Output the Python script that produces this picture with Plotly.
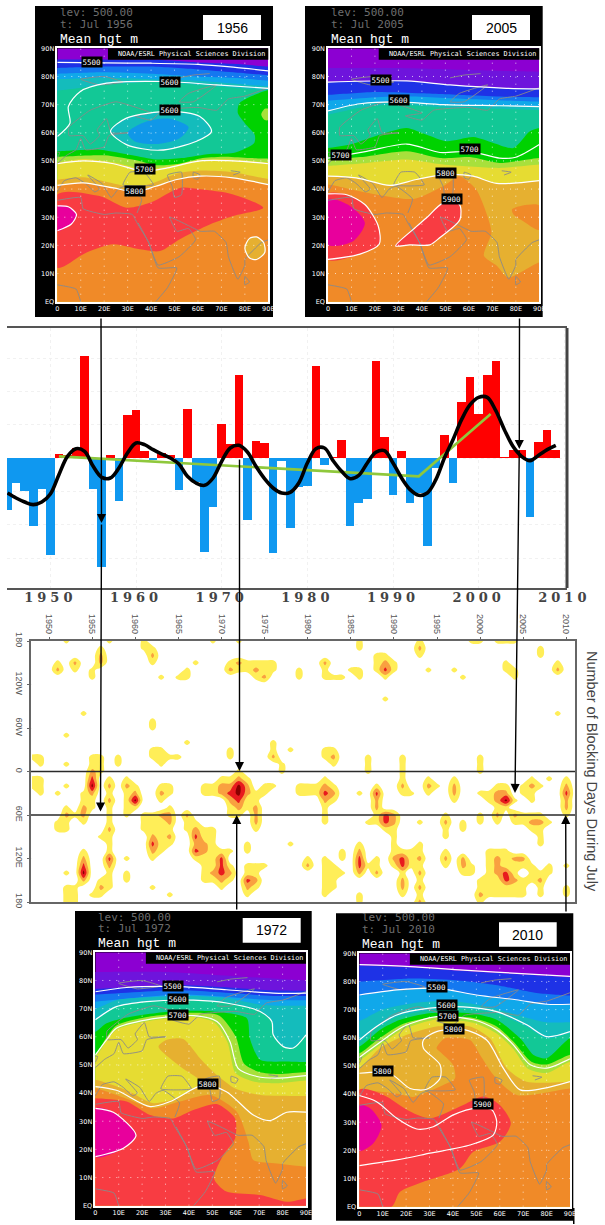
import numpy as np
import plotly.graph_objects as go

W, H = 605, 1225

# ---------- bar chart data ----------
BAR_YEARS = list(range(1945, 2010))
BAR_VALUES = [-1.55,-.75,-1.0,-2.05,-.92,-2.9,.12,.08,.3,3.05,-.92,-3.27,.1,-1.28,1.28,1.45,.2,-.05,.15,.1,
              -.97,1.47,-.72,-2.83,-1.47,1.03,.42,2.5,-1.85,.5,.45,-2.85,-.08,-2.1,-.87,-.83,2.75,-.2,.03,.55,
              -2.05,-1.35,-1.22,2.9,.62,-1.1,.2,-1.36,-1.05,-2.65,-.3,.7,-.76,1.68,2.42,1.32,2.5,2.9,.02,.24,
              .24,-1.78,.47,.84,.24]
SMOOTH_VALUES = [-1.05,-1.2,-1.32,-1.4,-1.32,-1.08,-.5,.05,.28,.2,-.25,-.58,-.6,-.3,.15,.45,.4,.25,.12,0,
                 -.18,-.55,-.75,-.82,-.6,-.1,.3,.38,.18,-.25,-.62,-.9,-1.05,-1.03,-.75,-.15,.28,.3,-.08,-.4,
                 -.62,-.52,-.15,.17,.22,-.15,-.6,-.95,-1.12,-1.05,-.65,0,.55,1.15,1.6,1.82,1.82,1.42,.85,.35,
                 .05,-.08,.08,.25,.38]
TREND_YEARS = [1951, 1993, 2001.4]
TREND_VALUES = [.05, -.55, 1.32]
BAR_TICKS = [1950, 1960, 1970, 1980, 1990, 2000, 2010]

# ---------- blocking-days data: year -> {longitude index (10 deg steps from 180W): class} ----------
BLOCK_TICKS = [1950,1955,1960,1965,1970,1975,1980,1985,1990,1995,2000,2005,2010]
BLOCK_LON_TICKS = [-180,-120,-60,0,60,120,180]
BLOCK_LON_LABELS = ['180','120W','60W','0','60E','120E','180']
BLOCK_DAYS = {
1948:{16:1,19:1,20:1},
1949:{16:1,17:1,19:1,20:1,21:1},
1950:{},
1951:{3:1,4:2,21:1,25:1,26:1},
1952:{0:1,13:1,17:1,20:1,23:1,24:2,25:1,26:1,32:1,34:1,35:1,36:1},
1953:{3:2,4:1,24:1,34:1,35:1,36:1},
1954:{10:1,21:1,22:1,23:2,24:2,25:1,29:1,30:2,31:3,32:4,33:2},
1955:{4:1,5:1,16:1,17:1,18:2,19:3,20:4,21:2,22:1,23:1,35:1},
1956:{1:1,2:2,3:2,16:1,17:1,18:1,27:1,33:1,34:2,35:1},
1957:{0:1,19:1,20:2,21:1,22:2,23:1,24:1,25:1,26:2,27:1,28:1,29:1,30:3,31:2,32:1,33:1,34:1},
1958:{16:1,17:1},
1959:{19:1,20:2,21:1,22:1,23:1,24:1,30:1,32:1,33:1},
1960:{20:1,21:2,22:4,23:1},
1961:{0:1,1:1,24:1,25:1,26:1},
1962:{1:1,2:2,3:1,11:1,12:1,15:1,16:1,24:1,25:1,26:1,27:2,28:3,29:2,30:1,34:1},
1963:{5:1,15:1,16:1,17:1,20:1,21:2,22:1,24:2,25:1,26:1,27:1,28:1,29:1},
1964:{16:1,20:1,21:1,23:1,24:2,25:2,26:1,27:2,28:1,35:1},
1965:{5:1,16:1},
1966:{4:1,5:1,14:1,24:2,25:1,26:1},
1967:{3:1,25:1,26:2,27:3,28:2,29:3,30:1},
1968:{20:1,21:1,26:1,27:1,28:2,29:2,30:1,31:1,32:1,33:1},
1969:{0:1,20:1,21:1,26:1,27:1,28:1,29:1,30:1,31:1,32:2,33:1},
1970:{19:1,20:2,21:2,29:1,30:3,31:3,32:3,33:2,34:1},
1971:{3:1,4:2,15:1,16:1,19:1,20:2,21:3,22:2,23:1,24:1,29:1,31:1,32:2,33:1},
1972:{0:1,3:2,4:1,18:1,19:2,20:4,21:4,22:3,23:2,24:1},
1973:{3:1,4:1,19:1,20:2,21:2,22:1,23:1,28:1,29:1,31:1,32:1,33:3,34:2,35:1},
1974:{3:1,4:2,5:1,21:1,22:1,23:2,24:2,25:2,26:1,31:1,32:1,33:2,34:1},
1975:{3:1,4:1,5:2,20:1,21:1,31:1},
1976:{3:1,4:1,14:1,15:1,16:2,20:1},
1977:{17:1,18:1},
1978:{15:1,28:1},
1979:{4:1,5:1,20:1,21:1},
1980:{20:1,21:1,30:1,31:2},
1981:{20:1,21:1},
1982:{3:2,4:1,5:1,15:1,16:1,19:1,20:2,21:3,22:2,23:1,24:1,25:1,30:1,31:1,32:1,33:1,34:1,35:1},
1983:{5:1,15:1,16:2,17:1,20:1,21:2,22:1,31:1,32:1,33:1,34:1},
1984:{5:1,29:1,30:1,32:1},
1985:{4:1},
1986:{0:1,1:1,4:1,5:1,21:1,28:1,29:2,30:3,31:3,32:2,35:1,36:1},
1987:{16:1,17:1,18:1,25:1,31:1},
1988:{2:1,3:1,4:1,20:1,21:3,22:2,23:2,24:1,25:1,30:1,31:1,32:2},
1989:{2:1,3:2,4:3,5:1,8:1,24:3,25:3,26:1},
1990:{3:1,4:1,24:2,25:2,26:1,27:1,28:1,29:1,30:2,31:1},
1991:{16:1,17:1,18:1,19:1,20:2,21:1,29:1,30:3,31:3,32:1,33:2,34:2,35:1},
1992:{21:1,29:1,30:1,31:1},
1993:{0:1,1:2,2:1,25:1,28:1,29:1,30:2,31:1,32:2,33:1,34:2,35:1,36:2},
1994:{4:1,19:1,20:2,21:1},
1995:{20:1},
1996:{24:1,25:2,26:1,27:1,29:1,30:2,31:1},
1997:{4:1,19:1,20:2,21:2,22:1},
1998:{5:1,25:1,26:1,30:2,31:2,32:1},
1999:{0:1,31:1,32:1},
2000:{0:1,16:1,17:1,18:1,21:1,24:1,25:1,33:1,34:1,35:2,36:1},
2001:{21:1,22:1,29:1,30:1,31:1,32:1,33:1,34:1,35:1},
2002:{0:1,20:1,21:2,22:2,23:1,24:2,25:1,29:1,30:2,31:2,32:2,33:1,34:1,35:1},
2003:{0:1,3:1,4:1,20:1,21:2,22:4,23:1,29:1,30:1,31:1,32:3,33:3,34:1,35:1},
2004:{0:1,4:1,5:1,22:1,24:2,25:1,30:2,31:1,32:1,33:2,34:1,35:1},
2005:{20:1,21:1,24:1,25:1,30:2,31:1,33:1,34:1,35:1},
2006:{19:1,20:2,21:1,22:1,24:1,25:2,26:1,31:1,32:1,33:1},
2007:{1:1,2:1,20:1,24:1,25:2,26:1,27:1,28:1,32:1,33:2,34:1,35:1},
2008:{19:1,25:1,31:1,32:1},
2009:{3:1,4:2,10:1},
2010:{19:1,20:2,21:3,22:2,23:2,24:1,31:1,34:1,35:1},
2011:{},
}

# ---------- map data (lon, lat in degrees) ----------
LON_TICKS = list(range(0, 91, 10))
LON_LABELS = ['0','10E','20E','30E','40E','50E','60E','70E','80E','90E']
LAT_TICKS = list(range(0, 91, 10))
LAT_LABELS = ['EQ','10N','20N','30N','40N','50N','60N','70N','80N','90N']

COAST_LINES = [
 ([0,8,10],[6,4.5,0]),
 ([0,10,11,20,25,32,34,39,43,51,47,42],[36,37,33,31,31.5,31,28,21,12,12,5,0]),
 ([34.5,39,43,52,59,56,51,48,56,61,67,72,73,77,80,80,87,90],[28,21,13,16,22,26,25,30,27,25,25,21,16,8,13,15,21,22]),
 ([80,82,80,80],[9,7,6,9]),
 ([0,3,8,12,16,18,13,19,23,26,29,36,34],[39,43,44,42,39,40,45,42,37,40,41,36.5,31.5]),
 ([28,41,37,31,28],[41.5,41.5,46,46,41.5]),
 ([47,53,53,50,49,47],[45,46,38,37,41,45]),
 ([58,61,60,58,58],[46,45,43.5,44,46]),
 ([74,78,75],[46.5,46,45]),
 ([0,4,8,10,12,20,22,30,23,21,17,18,14,11,5,5,14,25,40,33,40,45,60,68,73,80,90],
  [49,52,54,58,54,55,59,60,60,65,61,59,56,59,59,62,68,71,67,66,64.5,68,69,68,72,73,76]),
 ([52,56,68,58,52],[71,74,77,71,71]),
 ([10,20,28,18,10],[79,80,78,77,79]),
 ([52,58,65],[79.5,80.5,81]),
 ([0,-1,1,0],[51,53,53,51]),
]

M1956_BANDS = [
 ('blue1',[0,20,40,60,75,90],[86,86,86,85,84.5,83.5]),
 ('blue2',[0,20,40,60,75,90],[83,83.5,83.5,82.5,81.5,80.5]),
 ('blue3',[0,20,40,60,75,90],[81,81.5,81,80,79.5,78.5]),
 ('cyan',[0,20,40,60,75,90],[79,79.5,79,78.5,77.5,76.5]),
 ('teal',[0,20,40,60,75,90],[75,77,78,77,76,75]),
 ('green',[0,18,32,42,53,65,75,84,84.2,80,77,77.7,90],[53.4,54,52,50.5,51,52.5,52.8,56.4,59.3,63.4,67,70.5,75.2]),
 ('lime',[0,20,35,42,52,62,72,82,90],[51.5,52,50,48.5,49,51,51.5,51,50.8]),
 ('yellow',[0,11,24,37,47,61,75,90],[49.5,50.7,49.5,47,48,50.3,50.5,49.5]),
 ('gold',[0,11,24,33,42,51,61,75,90],[43.4,44.2,42,40.6,42.5,45.5,46.6,46,43.6]),
 ('orange',[0,11,24,33,42,51,61,75,90],[41.3,42.2,40.4,39,41,43.4,44.6,44,41.6]),
]
M1956_BLOBS = [
 ('cyan',[22.7,29.5,48,60.8,65.8,59.4,43.7,29.5],[60.5,65.2,67.6,65.8,60.5,57,53.8,55.8]),
 ('sky',[30,38,48,56,52,42,33],[60,64,65,62,58,56,57]),
 ('lime',[87,88.5,90,90,88.5],[66.5,68.5,68.5,64.5,64.5]),
 ('red',[0,18,29.5,39.5,52.3,60.8,75,87.8,75,63.6,52.3,43.8,35.2,23.9,12.5,0],
        [38.1,37.5,33.4,35.1,40.4,39.9,38.1,33.4,30.4,26.9,22.2,18,18.6,20.4,17.5,12.1]),
 ('magenta',[0,4.7,8.2,6,0],[34,33.7,31,27.6,25.2]),
 ('gold',[80,82,85,88,88.5,85,82],[19,22.5,23,21,17.5,15,15.5]),
]
M1956_LINES = [
 ([0,20,40,60,75,90],[85,84.8,84.7,84.3,83.3,82]),
 ([0,5.4,4.7,9.7,21,46.6,67.9,90],[58.7,63.4,69.3,74.6,77.6,78.2,77,75.8]),
 ([22.7,29.5,48,60.8,65.8,59.4,43.7,29.5,22.7],[60.5,65.2,67.6,65.8,60.5,57,53.8,55.8,60.5]),
 ([0,11,24,37,47,61,75,90],[49,50,49,46.3,47.5,50,50,49]),
 ([0,11,24,33,42,51,61,75,90],[41.3,42.2,40.4,39,41,43.4,44.6,44,41.6]),
 ([0,4.7,8.2,6,0],[34,33.7,31,27.6,25.2]),
 ([80,82,85,88,88.5,85,82,80],[19,22.5,23,21,17.5,15,15.5,19]),
]
M1956_LABELS = [('5500',15,85),('5600',48,78),('5600',48,68),('5700',37.6,47),('5800',33,39.3)]

M2005_BANDS = [
 ('purple2',[0,30,60,90],[83,83,82.3,81.7]),
 ('blue1',[0,33.5,52,76,90],[78,78.4,77,75.8,75.6]),
 ('blue2',[0,20,40,60,75,90],[73.5,74.5,74,73.3,72.8,72.6]),
 ('blue3',[0,30,60,90],[71.5,73,72,71]),
 ('cyan',[0,13.6,29,49,73,90],[67.8,70.3,71,70,69.6,69.3]),
 ('teal',[0,14,29,49,73,90],[66.5,69,70,69,68.5,68]),
 ('green',[0,9.4,22,33.5,42,50.5,62,70.4,79,86,90],[54.6,55.8,59.3,61.7,59.3,57,58.5,56.4,54.6,60.5,61.7]),
 ('lime',[0,16.5,33.5,47.7,60.4,73,90],[50.5,51.6,53.4,51,51.4,49.3,51]),
 ('yellow',[0,16.5,33.5,49,73,90],[48.3,49.3,50.5,48.7,47.5,48.7]),
 ('gold',[0,12,26.4,37.7,50.5,61.8,71.8,90],[44.6,44,41.3,43.4,45.2,44.6,42,43]),
 ('orange',[0,16.5,36.4,49,56,63,67.4,69.6,66.4,72,76.7,90],[41.6,38.7,36.5,41,44.6,40,31.6,24.5,16.3,12.7,8.6,13.9]),
]
M2005_BLOBS = [
 ('orange',[78.4,83,90,90,83,79],[32.8,34.2,34.2,25.5,28.7,31]),
 ('red',[0,8,15.7,21.4,21.8,13.6,0],[38.3,38,34.5,26.9,20.4,16.9,15]),
 ('magenta',[0,9.4,15.7,10.8,0],[36.3,34,28,21.6,20.2]),
 ('red',[28.8,36.3,42,49,55.9,56.2,47.7,43.4,34.9],[19.8,25.7,29.8,35,34.6,29.2,22.8,20.2,20.2]),
]
M2005_LINES = [
 ([0,33.5,52,76,90],[78,78.4,77,75.8,75.6]),
 ([0,13.6,29,49,73,90],[67.8,70.3,71,70,69.6,69.3]),
 ([0,16.5,33.5,47.7,60.4,73,80,90],[51,53.4,56,53,53.4,51,51.3,55.8]),
 ([0,12,26.4,37.7,50.5,61.8,71.8,90],[44.6,44,41.3,43.4,45.2,44.6,42,43]),
 ([0,8,15.7,21.4,21.8,13.6,0],[38.3,38,34.5,26.9,20.4,16.9,15]),
 ([28.8,36.3,42,49,55.9,56.2,47.7,43.4,34.9,28.8],[19.8,25.7,29.8,35,34.6,29.2,22.8,20.2,20.2,19.8]),
]
M2005_LABELS = [('5500',22.5,78.8),('5600',30.3,71.5),('5700',5.4,52),('5700',60.4,54.2),('5800',50.2,45.8),('5900',53,36.3)]

M1972_BANDS = [
 ('purple2',[0,30,60,90],[83,83,81.5,80]),
 ('blue1',[0,36,76,90],[77,78.4,76.5,76.3]),
 ('blue2',[0,36,76,90],[75,76.5,74.5,74.5]),
 ('blue3',[0,36,76,90],[72.5,75,73,73]),
 ('cyan',[0,9,22,42,56,70,80,90],[70,73,74,74.5,73.8,71.5,71,71]),
 ('teal',[0,9,22,42,56,70.4,75.4,76,80.3,84.6,90],[66,70.7,72.5,73,72,69,65.4,60.7,56.5,56,60.7]),
 ('green',[0,4.8,12,32,50.4,64.7,66,70.4,81.8,90],[61.8,64.8,66.6,69,69,66.6,59.5,51.8,51.2,51]),
 ('lime',[0,5,9,22,42,53,60,63.5,70,78,90],[54,60,64,67,68.5,67.5,60,50.5,47.5,46.8,47.5]),
 ('yellow',[0,4.8,9,22,42,51,56.5,60,68,77,90],[53,58.5,62.5,65.5,67,65,58,47,44,43.5,44.5]),
 ('gold',[0,13.4,24.8,36.2,45,37,27,30.5,37.6,44.7,51.9,60,70.4,90],[44.7,41,36.4,38.7,44,49,56.5,58.9,59.2,52.4,46.4,41.5,39.3,39]),
 ('orange',[0,13.4,24.8,36,49,60.4,65.4,67.5,77.5,90],[41.7,38,34.6,37,39.3,33.4,22.7,16.2,15,13.9]),
 ('red',[0,13.4,23.4,33.3,41.9,51.9,59.7,59.7,54.7,50.7,56,70.4,81.8,90],[38.2,37,32.2,31,34,36.1,31,23.9,18,9.7,5,3.8,1.4,2.6]),
]
M1972_BLOBS = [
 ('magenta',[0,7.7,17.4,12,0],[34.6,33.2,25,20.4,17.4]),
]
M1972_LINES = [
 ([0,13.4,36,56,76,90],[76,77.5,77.8,76.7,75.5,75.5]),
 ([0,9,22,42,56,70.4,75.4,76,80.3,84.6,90],[66,70.7,72.5,73,72,69,65.4,60.7,56.5,56,60.7]),
 ([0,4.8,9,22,42,52,57.5,61,69,77.5,90],[53.5,58.9,63,66,67.5,65.4,58.3,48.8,45.9,45.3,46.2]),
 ([0,9,23.4,32,46.2,56,67.5,74.6,81.8,90],[42.3,41,35.2,37,42.9,40.5,32.2,30.2,33.2,33.2]),
 ([0,7.7,17.4,12,0],[34.6,33.2,25,20.4,17.4]),
]
M1972_LABELS = [('5500',33,78),('5600',35.5,73.3),('5700',35.5,67.8),('5800',48,43.2)]

M2010_BANDS = [
 ('blue1',[0,21.7,44.4,73,90],[85.7,85,83.7,82.3,81.5]),
 ('blue2',[0,20,40,60,75,90],[80,81,80.5,78.5,76,75]),
 ('blue3',[0,16,33,50,67,80,90],[75,77,77.5,75,73.3,71.7,71.7]),
 ('cyan',[0,10,25,40,55,70,80,90],[66,70,72.5,73,71,67.5,65.5,65.5]),
 ('teal',[0,7.4,16,30,44.4,58.7,71.5,80,90],[58.5,63.3,67.4,69.8,70.3,68.6,63.9,59.7,61.5]),
 ('green',[0,8.8,17.4,30,47.3,58.7,68.7,74.4,80,90],[56.9,62.8,66.4,68.7,68.7,66.4,59.8,53.9,52.7,59.8]),
 ('lime',[0,8,18.8,33,48.7,58.7,66,73.5,80,90],[54.5,59.5,65,67.5,67,64,58.5,51.5,50.5,54]),
 ('yellow',[0,7.4,18.8,33,48.7,58.7,65.8,72,80,90],[52,56.5,63,66.5,65.3,61.5,56,49,47.5,51.5]),
 ('gold',[0,8.8,20,33,47.3,55.8,63,71.5,90],[49.2,56.3,61,64,64,59.8,49.2,44.4,44.4]),
 ('orange',[0,17,23,35.9,40.9,40,34.5,33,36.6,47.3,51.6,57.3,67.2,90],[41.5,40,39,43.2,45.6,50.4,55,56.3,59.8,59.2,53.9,46.8,39.7,42]),
]
M2010_BLOBS = [
 ('red',[0,10.3,21.7,30.2,44.4,53,60,64.7,60,48.7,43,27.4,17.4,13.8,0],[41.5,39.7,33.8,31.4,36.1,39.1,36.1,29.6,23.1,19.5,13.6,8.9,5.3,0,0]),
 ('magenta',[0,4.6,9.5,6,0],[36.1,35,29,22.5,19.8]),
]
M2010_LINES = [
 ([0,21.7,44.4,73,90],[86,85.3,84,82.6,81.8]),
 ([0,16,33,50,67,80,90],[75.2,77,77.6,75.2,73.5,71.9,71.9]),
 ([0,7.4,16,30,44.4,58.7,71.5,80,90],[59.2,64,68.1,70.5,71,69.3,64.6,60.4,62.2]),
 ([0,7.4,18.8,33,48.7,58.7,65.8,73,80,90],[53,57.5,64,67.5,66.4,62.8,57.5,50.4,49.2,52.5]),
 ([0,13,21.7,28.8,34.5,34.5,27.4,27.4,33,44.4,54.4,61.5,68.7,78.6,90],[47.4,47.4,42,41.7,45.6,50.4,56.3,59.2,62.2,63,59.2,49.2,41.5,42,44.4]),
 ([0,7.4,16,24.5,31.6,40.2,50,56.6,58.7,57.3,47.3,30.2,16,0],[39.5,37.3,31.4,27.6,28.4,32.6,35,34.4,30.2,25.5,21.9,19,16.6,14.6]),
]
M2010_LABELS = [('5500',33,78),('5600',37.6,71.7),('5700',37.7,67.8),('5800',40.5,63),('5800',10.3,48.3),('5900',53,36.4)]

MAP_TITLES = {'1956':'t: Jul 1956','2005':'t: Jul 2005','1972':'t: Jul 1972','2010':'t: Jul 2010'}
LEVEL_TEXT = 'lev: 500.00'
VAR_TEXT = 'Mean hgt m'
CREDIT_TEXT = 'NOAA/ESRL Physical Sciences Division'
SIDE_TITLE = 'Number of Blocking Days During July'

# ---------- styles ----------
COL = dict(purple='#8c00d2', purple2='#6e14dc', blue1='#1e32e6', blue2='#1478f0', blue3='#10a8ea',
           cyan='#14bcbc', sky='#1098e8', teal='#12c896', green='#00d200', lime='#a8e03c', yellow='#e6dc32',
           gold='#e6b030', orange='#f08a28', red='#f83c42', magenta='#e8009c')

def xd(a, b): return [a / W, b / W]
def yd(a, b): return [1 - b / H, 1 - a / H]
def px(x): return x / W
def py(y): return 1 - y / H

fig = go.Figure()
shapes, ann = [], []
axes = {}

PANELS = [
 ('1956', 1, M1956_BANDS, M1956_BLOBS, M1956_LINES, M1956_LABELS,
  (35,6,273,317), (57.3,48.3,268.3,301.7), (203,15,261,40), (58,12.7,24.3,39.3)),
 ('2005', 2, M2005_BANDS, M2005_BLOBS, M2005_LINES, M2005_LABELS,
  (305,6,542.7,317), (328,48.3,539.3,301.7), (472,15,530,40), (329,12.7,24.3,39.3)),
 ('1972', 3, M1972_BANDS, M1972_BLOBS, M1972_LINES, M1972_LABELS,
  (75,911,311.7,1220), (95.3,952.3,306,1205.7), (242.7,918,300.7,942.7), (96,917,928.3,943)),
 ('2010', 4, M2010_BANDS, M2010_BLOBS, M2010_LINES, M2010_LABELS,
  (336,913.3,573.3,1220.7), (359.3,953.3,570,1206.7), (499,922.3,556.7,946.7), (360,917.7,929.6,944)),
]

for year, i, bands, blobs, lines, labels, black, plot, box, txt in PANELS:
    xa, ya = f'x{i}', f'y{i}'
    axes[f'xaxis{i}'] = dict(domain=xd(plot[0], plot[2]), range=[0, 90], anchor=ya, tickvals=LON_TICKS, ticktext=LON_LABELS,
                             showgrid=False, zeroline=False, showline=True, mirror=True, linecolor='white', linewidth=1.5, automargin=False,
                             ticks='', tickangle=0, tickfont=dict(size=6.5, color='white', family='DejaVu Sans'))
    axes[f'yaxis{i}'] = dict(domain=yd(plot[1], plot[3]), range=[0, 90], anchor=xa, tickvals=LAT_TICKS, ticktext=LAT_LABELS,
                             showgrid=False, zeroline=False, showline=True, mirror=True, linecolor='white', linewidth=1.5, automargin=False,
                             ticks='', tickfont=dict(size=6.5, color='white', family='DejaVu Sans'))
    kw = dict(xaxis=xa, yaxis=ya, showlegend=False, hoverinfo='skip', mode='lines')
    fig.add_trace(go.Scatter(x=[0, 90, 90, 0, 0], y=[0, 0, 90, 90, 0], fill='toself', fillcolor=COL['purple'], line=dict(width=0), **kw))
    for name, lo, la in bands:
        X = [-5] + lo + [95, 95, -5, -5]
        Y = [la[0]] + la + [la[-1], -5, -5, la[0]]
        fig.add_trace(go.Scatter(x=X, y=Y, fill='toself', fillcolor=COL[name], line=dict(width=0, shape='spline', smoothing=0.7), **kw))
    for name, lo, la in blobs:
        fig.add_trace(go.Scatter(x=lo + lo[:1], y=la + la[:1], fill='toself', fillcolor=COL[name],
                                 line=dict(width=0, color=COL[name], shape='spline', smoothing=0.8), **kw))
    gx, gy = [], []
    for t in LON_TICKS[1:-1]:
        gx += [t, t, None]; gy += [0, 90, None]
    for t in LAT_TICKS[1:-1]:
        gx += [0, 90, None]; gy += [t, t, None]
    fig.add_trace(go.Scatter(x=gx, y=gy, line=dict(color='rgba(255,255,255,0.7)', width=1, dash='1px 6px'), **kw))
    for lo, la in COAST_LINES:
        fig.add_trace(go.Scatter(x=lo, y=la, line=dict(color='#8a8a8a', width=0.9, shape='spline', smoothing=0.4), **kw))
    for lo, la in lines:
        fig.add_trace(go.Scatter(x=lo, y=la, line=dict(color='white', width=1.2, shape='spline', smoothing=0.8), **kw))
    for t, lo, la in labels:
        ann.append(dict(text=t, x=lo, y=la, xref=xa, yref=ya, showarrow=False, bgcolor='black', borderpad=0.5,
                        xanchor='center', yanchor='middle', font=dict(color='white', size=7.5, family='DejaVu Sans Mono')))
    # panel furniture
    shapes.append(dict(type='rect', xref='paper', yref='paper', x0=px(black[0]), x1=px(black[2]), y0=py(black[3]), y1=py(black[1]),
                       fillcolor='black', line=dict(width=0), layer='below'))
    shapes.append(dict(type='rect', xref='paper', yref='paper', x0=px(box[0]), x1=px(box[2]), y0=py(box[3]), y1=py(box[1]),
                       fillcolor='white', line=dict(width=0), layer='above'))
    ann.append(dict(text=year, x=px((box[0]+box[2])/2), y=py((box[1]+box[3])/2), xref='paper', yref='paper', showarrow=False,
                    xanchor='center', yanchor='middle', font=dict(color='black', size=14, family='Liberation Sans')))
    w = plot[2] - plot[0]
    shapes.append(dict(type='rect', xref='paper', yref='paper', x0=px(plot[0] + 0.24 * w), x1=px(plot[2]),
                       y0=py(plot[1] + 11.5), y1=py(plot[1]), fillcolor='black', line=dict(width=0), layer='above'))
    ann.append(dict(text=CREDIT_TEXT, x=px(plot[2] - 1), y=py(plot[1] + 5.5), xref='paper', yref='paper', xanchor='right', yanchor='middle',
                    showarrow=False, font=dict(color='white', size=6.8, family='DejaVu Sans Mono')))
    for t, yy, col, sz, fam in [(LEVEL_TEXT, txt[1], '#6e6e6e', 11, 'DejaVu Sans Mono'),
                                (MAP_TITLES[year], txt[2], '#6e6e6e', 11, 'DejaVu Sans Mono'),
                                (VAR_TEXT, txt[3], 'white', 13, 'Liberation Mono')]:
        ann.append(dict(text=t, x=px(txt[0]), y=py(yy), xref='paper', yref='paper', xanchor='left', yanchor='middle', showarrow=False,
                        font=dict(color=col, size=sz, family=fam)))

shapes.append(dict(type='rect', xref='paper', yref='paper', x0=px(573), x1=px(574.5), y0=py(1224), y1=py(1208),
                   fillcolor='black', line=dict(width=0), layer='below'))

# ---------- bars ----------
bar_colors = ['#ff0000' if v > 0 else '#0f98f0' for v in BAR_VALUES]
fig.add_trace(go.Bar(x=BAR_YEARS, y=BAR_VALUES, width=1.0, marker=dict(color=bar_colors, line=dict(width=0)),
                     xaxis='x5', yaxis='y5', showlegend=False, hoverinfo='skip'))
fig.add_trace(go.Scatter(x=TREND_YEARS, y=TREND_VALUES, mode='lines', line=dict(color='#8fc83c', width=2.6),
                         xaxis='x5', yaxis='y5', showlegend=False, hoverinfo='skip'))
fig.add_trace(go.Scatter(x=BAR_YEARS, y=SMOOTH_VALUES, mode='lines', line=dict(color='black', width=3.6, shape='spline', smoothing=1),
                         xaxis='x5', yaxis='y5', showlegend=False, hoverinfo='skip'))
axes['xaxis5'] = dict(domain=xd(7, 567), range=[1944.94, 2010.31], anchor='y5', tickvals=BAR_TICKS, showline=True, mirror=True, automargin=False,
                      linecolor='#555555', linewidth=1.5, showgrid=True, gridcolor='#f1f1f1', griddash='dot', zeroline=False, ticks='',
                      ticklabelstandoff=-3, tickangle=0, tickfont=dict(size=13, color='#444444', family='DejaVu Serif'))
axes['yaxis5'] = dict(domain=yd(328, 588), range=[-3.9, 3.9], anchor='x5', side='right', showticklabels=False, ticks='', automargin=False,
                      showline=False, showgrid=True, gridcolor='#f1f1f1', griddash='dot', zeroline=False, dtick=1)
shapes.append(dict(type='line', xref='paper', yref='paper', x0=px(567), x1=px(567), y0=py(328), y1=py(588),
                   line=dict(color='#444444', width=3), layer='above'))

# ---------- blocking ----------
block_years = sorted(BLOCK_DAYS)
block_lons = [-180 + 10 * k for k in range(37)]
z = np.zeros((37, len(block_years)))
for c, yr in enumerate(block_years):
    for k, v in BLOCK_DAYS[yr].items():
        z[k, c] = v
dark = '#8a0000'
cs = [[0,'#ffffff'],[.125,'#ffffff'],[.125,'#ffee58'],[.375,'#ffee58'],[.375,'#f9a040'],[.625,'#f9a040'],
      [.625,'#e81a1e'],[.875,'#e81a1e'],[.875,dark],[1,dark]]
fig.add_trace(go.Contour(x=block_years, y=block_lons, z=z, zmin=0, zmax=4, colorscale=cs, showscale=False, hoverinfo='skip',
                         contours=dict(start=.65, end=3.65, size=1, coloring='fill', showlines=False),
                         line=dict(width=0, smoothing=1), xaxis='x6', yaxis='y6'))
axes['xaxis6'] = dict(domain=xd(31, 575), range=[1947.9, 2011], anchor='y6', side='top', tickvals=BLOCK_TICKS, tickangle=90, automargin=False,
                      showline=True, mirror=True, linecolor='#666666', linewidth=1.5, showgrid=True, gridcolor='#f4f4f4', griddash='dot',
                      zeroline=False, ticks='outside', ticklen=2, tickcolor='#666666', tickfont=dict(size=9, color='#555555', family='Liberation Sans'))
axes['yaxis6'] = dict(domain=yd(641, 902), range=[180, -180], anchor='x6', tickvals=BLOCK_LON_TICKS, ticktext=BLOCK_LON_LABELS, tickangle=90, automargin=False,
                      showline=True, mirror=True, linecolor='#666666', linewidth=1.5, showgrid=True, gridcolor='#f4f4f4', griddash='dot',
                      zeroline=False, ticks='outside', ticklen=2, tickcolor='#666666', tickfont=dict(size=9, color='#555555', family='Liberation Sans'))
for v in [0, 60]:
    shapes.append(dict(type='line', xref='x6 domain', yref='y6', x0=0, x1=1, y0=v, y1=v, line=dict(color='#2a2a2a', width=1.6), layer='above'))
ann.append(dict(text=SIDE_TITLE, x=px(592), y=py(771), xref='paper', yref='paper', textangle=90, showarrow=False,
                xanchor='center', yanchor='middle', font=dict(size=14.5, color='#444444', family='Liberation Sans')))

# ---------- connecting arrows ----------
def connector(x0, y0, x1, y1, head=True):
    ann.append(dict(x=px(x1), y=py(y1), xref='paper', yref='paper', ax=x0 - x1, ay=y0 - y1, axref='pixel', ayref='pixel', text='',
                    showarrow=True, arrowhead=2 if head else 0, arrowsize=1.3, arrowwidth=1.4, arrowcolor='black', standoff=0))

connector(101, 317, 101.5, 523)
connector(101.5, 523, 100.5, 811.5)
connector(239.5, 458, 239.5, 771)
connector(236.7, 911, 236.7, 815)
connector(519.5, 317, 519.3, 449)
connector(519.3, 449, 515, 793)
connector(566, 913, 565.7, 815)

fig.update_layout(width=W, height=H, margin=dict(l=0, r=0, t=0, b=0), autosize=False, paper_bgcolor='white', plot_bgcolor='white',
                  bargap=0, shapes=shapes, annotations=ann, showlegend=False, font=dict(family='Liberation Sans'), **axes)

POST = """
document.body.style.margin='0';
document.querySelectorAll('.x5tick text').forEach(function(t){t.style.letterSpacing='4px';t.style.fontWeight='bold';});
"""
fig.write_html("out.html", post_script=POST, config=dict(displayModeBar=False))
